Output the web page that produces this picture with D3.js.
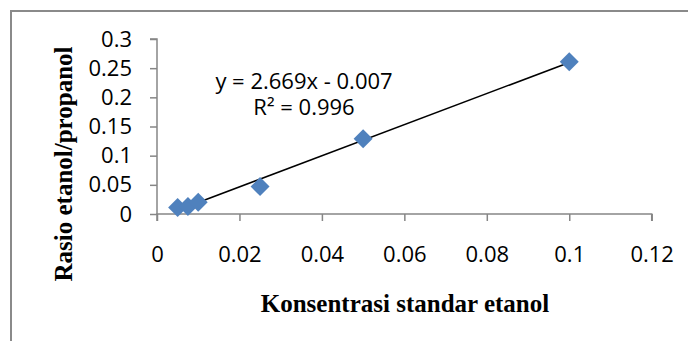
<!DOCTYPE html>
<html>
<head>
<meta charset="utf-8">
<script src="https://cdn.jsdelivr.net/npm/d3@7"></script>
<style>
  body { margin: 0; background: #fff; }
  svg { display: block; }
</style>
</head>
<body>
<figure id="scatter" style="margin:0"></figure>
<script>
// standard ethanol concentration vs ethanol/propanol ratio
const konsentrasi = [0.005, 0.0075, 0.01, 0.025, 0.05, 0.1];
const rasio = [0.011, 0.013, 0.02, 0.047, 0.129, 0.261];
const xTicks = [0, 0.02, 0.04, 0.06, 0.08, 0.1, 0.12];
const yTicks = [0, 0.05, 0.1, 0.15, 0.2, 0.25, 0.3];
const slope = 2.669;
const intercept = -0.007;
const trendRange = [0.005, 0.1];
const eqLines = ["y = 2.669x - 0.007", "R² = 0.996"];

const width = 688, height = 341;
const tickFont = "'Open Sans', sans-serif";
const titleFont = "'Liberation Serif', 'Times New Roman', serif";

const svg = d3.select("figure#scatter")
  .append("svg")
  .attr("width", width)
  .attr("height", height);

// outer frame (only left and top edges show)
svg.append("rect")
  .attr("x", 11).attr("y", 11)
  .attr("width", width + 20).attr("height", height + 20)
  .attr("fill", "none")
  .attr("stroke", "#8a8a8a")
  .attr("stroke-width", 2);

const x = d3.scaleLinear().domain([0, 0.12]).range([157, 651.7]);
const y = d3.scaleLinear().domain([0, 0.3]).range([214, 39]);

const fmt = d => String(+d.toFixed(3));

// Y axis
const gy = svg.append("g")
  .attr("transform", "translate(" + x(0) + ",0)")
  .call(d3.axisLeft(y).tickValues(yTicks).tickSize(7).tickPadding(18).tickFormat(fmt));

// X axis
const gx = svg.append("g")
  .attr("transform", "translate(0," + y(0) + ")")
  .call(d3.axisBottom(x).tickValues(xTicks).tickSize(7).tickPadding(25).tickFormat(fmt));

[gx, gy].forEach(g => {
  g.select(".domain").attr("stroke", "#868686").attr("stroke-width", 1.5);
  g.selectAll(".tick line").attr("stroke", "#868686").attr("stroke-width", 1.5);
  g.selectAll(".tick text")
    .attr("fill", "#000")
    .style("font-family", tickFont)
    .style("font-size", "22px");
});
// the axes meet without overhang
gx.select(".domain").attr("d", "M" + x(0) + ",7V0H" + x(0.12) + "V7");
gy.select(".domain").attr("d", "M-7," + y(0.3) + "H0V" + y(0));

// trend line
svg.append("line")
  .attr("x1", x(trendRange[0]))
  .attr("y1", y(slope * trendRange[0] + intercept))
  .attr("x2", x(trendRange[1]))
  .attr("y2", y(slope * trendRange[1] + intercept))
  .attr("stroke", "#000")
  .attr("stroke-width", 1.6);

// diamond markers
const dots = svg.append("g");
dots.selectAll("rect")
  .data(konsentrasi.map((k, i) => ({ k: k, r: rasio[i] })))
  .enter()
  .append("rect")
  .attr("x", -6.7).attr("y", -6.7)
  .attr("width", 13.4).attr("height", 13.4)
  .attr("transform", d => "translate(" + x(d.k) + "," + y(d.r) + ") rotate(45)")
  .attr("fill", "#4f81bd");

// equation
svg.append("g").selectAll("text")
  .data(eqLines)
  .enter()
  .append("text")
  .attr("x", 304)
  .attr("y", (d, i) => 89 + i * 26)
  .attr("text-anchor", "middle")
  .style("font-family", tickFont)
  .style("font-size", "22px")
  .text(d => d);

// axis titles
svg.append("text")
  .attr("x", 405)
  .attr("y", 312)
  .attr("text-anchor", "middle")
  .style("font-family", titleFont)
  .style("font-weight", "bold")
  .style("font-size", "25px")
  .text("Konsentrasi standar etanol");

svg.append("text")
  .attr("transform", "translate(72,164) rotate(-90)")
  .attr("text-anchor", "middle")
  .style("font-family", titleFont)
  .style("font-weight", "bold")
  .style("font-size", "25px")
  .text("Rasio etanol/propanol");
</script>
</body>
</html>
